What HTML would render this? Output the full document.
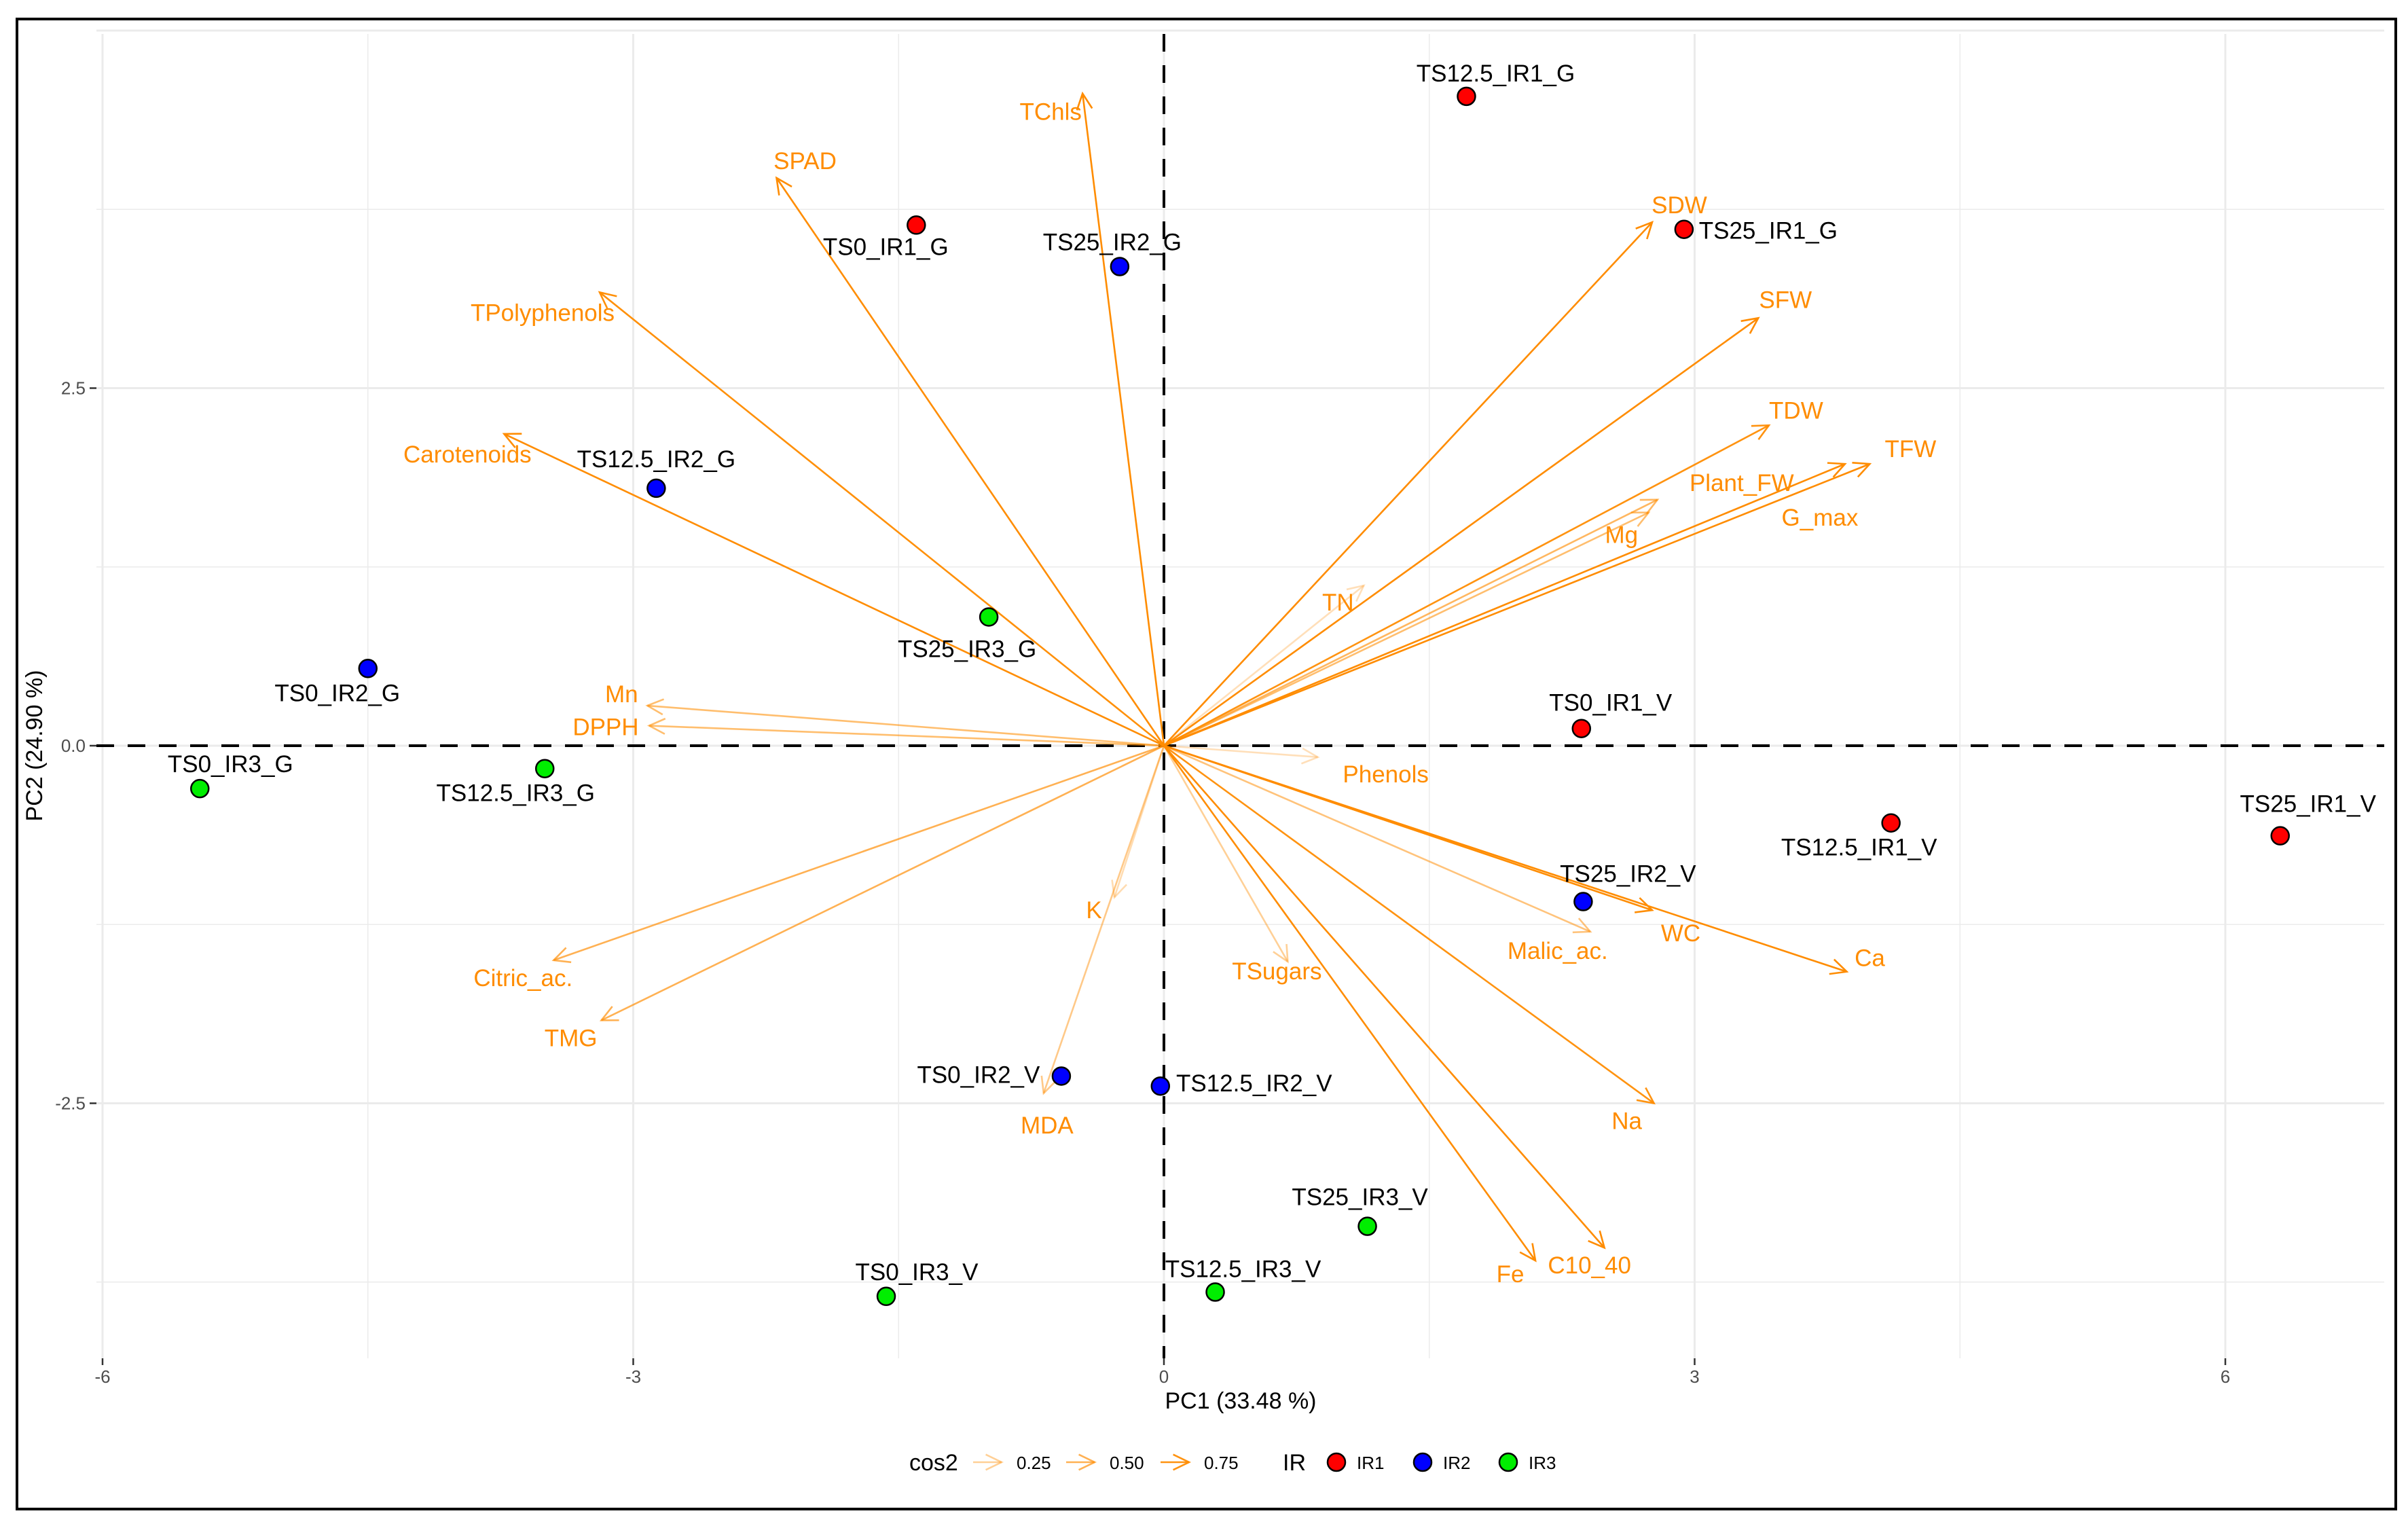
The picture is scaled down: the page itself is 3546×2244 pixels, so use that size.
<!DOCTYPE html>
<html><head><meta charset="utf-8"><style>
html,body{margin:0;padding:0;background:#fff}
svg{display:block;font-family:"Liberation Sans",Arial,sans-serif}
</style></head><body>
<svg id="chart" width="3546" height="2244" viewBox="0 0 3546 2244" xmlns="http://www.w3.org/2000/svg">
<rect x="0" y="0" width="3546" height="2244" fill="#fff"/>
<rect x="25" y="28" width="3503" height="2194" fill="none" stroke="#000" stroke-width="4"/>
<g id="grid"></g>
<g id="refs"></g>
<g id="arrows"></g>
<g id="points"></g>
<g id="axes"></g>
<g id="legend"></g>
</svg>
<script>
// ---- data ----
const indNames = ["TS12.5_IR1_G","TS0_IR1_G","TS25_IR2_G","TS25_IR1_G","TS12.5_IR2_G","TS25_IR3_G","TS0_IR2_G","TS0_IR3_G","TS12.5_IR3_G","TS0_IR1_V","TS12.5_IR1_V","TS25_IR1_V","TS25_IR2_V","TS0_IR2_V","TS12.5_IR2_V","TS25_IR3_V","TS12.5_IR3_V","TS0_IR3_V"];
const indPC1 = [1.71,-1.40,-0.25,2.94,-2.87,-0.99,-4.50,-5.45,-3.50,2.36,4.11,6.31,2.37,-0.58,-0.02,1.15,0.29,-1.57];
const indPC2 = [4.54,3.64,3.35,3.61,1.80,0.90,0.54,-0.30,-0.16,0.12,-0.54,-0.63,-1.09,-2.31,-2.38,-3.36,-3.82,-3.85];
const indGroup = ["IR1","IR1","IR2","IR1","IR2","IR3","IR2","IR3","IR3","IR1","IR1","IR1","IR2","IR2","IR2","IR3","IR3","IR3"];
const varNames = ["SPAD","TChls","TPolyphenols","Carotenoids","SDW","SFW","TDW","TFW","G_max","Plant_FW","Mg","TN","Mn","DPPH","Phenols","Ca","WC","Malic_ac.","Na","C10_40","Fe","TSugars","K","MDA","Citric_ac.","TMG"];
const varPC1 = [-2.19,-0.46,-3.19,-3.73,2.76,3.36,3.42,3.99,3.85,2.79,2.74,1.13,-2.92,-2.91,0.87,3.86,2.76,2.41,2.77,2.49,2.10,0.70,-0.28,-0.68,-3.45,-3.18];
const varPC2 = [3.97,4.56,3.17,2.18,3.66,2.99,2.24,1.97,1.97,1.72,1.63,1.12,0.28,0.14,-0.08,-1.58,-1.15,-1.30,-2.50,-3.51,-3.60,-1.51,-1.06,-2.43,-1.50,-1.92];
const varCos2 = [0.80,0.82,0.78,0.80,0.85,0.85,0.75,0.85,0.85,0.45,0.40,0.12,0.40,0.40,0.12,0.85,0.80,0.35,0.75,0.85,0.80,0.25,0.15,0.30,0.50,0.50];
const xTicks = [-6,-3,0,3,6];
const yTicks = [-2.5,0,2.5];
const legendCos2 = [0.25,0.50,0.75];
const groupNames = ["IR1","IR2","IR3"];
const groupColors = {IR1:"#FF0000",IR2:"#0000FF",IR3:"#00EE00"};
// label layout offsets (px) for repelled text
const indLabDX = [43,-45,-11,124,0,-32,-45,45,-43,43,-47,41,66,-122,138,-11,41,45];
const indLabDY = [-34,32,-36,2,-43,47,36,-36,36,-38,36,-47,-41,-2,-4,-43,-34,-36];
const varLabDX = [42,-47,-84,-54,40,40,40,60,-37,124,-40,-38,-38,-64,100,34,42,-48,-40,-22,-37,-16,-30,5,-45,-45];
const varLabDY = [-25,27,30,30,-25,-27,-22,-22,79,-25,33,25,-17,2,25,-20,34,28,26,26,20,14,19,47,26,26];

// ---- scales ----
const X0=1714, XU=260.5, Y0=1098, YU=210.6;
const PL=142, PR=3511, PT=50, PB=2000;
const sx = v => X0 + v*XU;
const sy = v => Y0 - v*YU;
const NS="http://www.w3.org/2000/svg";
function mk(tag, attrs, parent){const e=document.createElementNS(NS,tag);for(const k in attrs)e.setAttribute(k,attrs[k]);parent.appendChild(e);return e;}
const grid=document.getElementById('grid'), refs=document.getElementById('refs'), arrows=document.getElementById('arrows'), pts=document.getElementById('points'), axes=document.getElementById('axes'), leg=document.getElementById('legend');

for(let v=-6; v<=6.5; v+=1.5){
  const l=mk('line',{x1:sx(v),x2:sx(v),y1:PT,y2:PB,stroke:'#ebebeb','stroke-width':(v%3===0)?3:1.5},grid);
  
  
}
for(let v=-3.75; v<=5; v+=1.25){
  const l=mk('line',{x1:PL,x2:PR,y1:sy(v),y2:sy(v),stroke:'#ebebeb','stroke-width':(Math.abs(v%2.5)<1e-6)?3:1.5},grid);
  
  
}
let hz=mk('line',{x1:PL,x2:PR,y1:sy(0),y2:sy(0),stroke:'#000','stroke-width':4,'stroke-dasharray':'26,20'},refs);


let vz=mk('line',{x1:sx(0),x2:sx(0),y1:PT,y2:PB,stroke:'#000','stroke-width':4,'stroke-dasharray':'26,20'},refs);



function arrowHead(parent,x1,y1,x2,y2,col,op,w){
  const a=Math.atan2(y2-y1,x2-x1), L=26, s=0.45;
  const p=`M${x2-L*Math.cos(a-s)},${y2-L*Math.sin(a-s)} L${x2},${y2} L${x2-L*Math.cos(a+s)},${y2-L*Math.sin(a+s)}`;
  return mk('path',{d:p,fill:'none',stroke:col,'stroke-opacity':op,'stroke-width':w},parent);
}
function opac(c){return Math.max(0.12,Math.min(1,0.15+c*1.05));}
varNames.forEach((n,i)=>{
  const g=mk('g',{},arrows);
  
  
  const x2=sx(varPC1[i]), y2=sy(varPC2[i]), op=opac(varCos2[i]);
  mk('line',{x1:sx(0),y1:sy(0),x2:x2,y2:y2,stroke:'#FF8C00','stroke-opacity':op,'stroke-width':2.6},g);
  arrowHead(g,sx(0),sy(0),x2,y2,'#FF8C00',op,2.6);
  const t=mk('text',{x:x2+varLabDX[i],y:y2+varLabDY[i]+12,'text-anchor':'middle','font-size':35,fill:'#FF8C00'},g);
  t.textContent=n;
});
indNames.forEach((n,i)=>{
  const g=mk('g',{},pts);
  
  
  const x=sx(indPC1[i]), y=sy(indPC2[i]);
  mk('circle',{cx:x,cy:y,r:13,fill:groupColors[indGroup[i]],stroke:'#000','stroke-width':2.5},g);
  const t=mk('text',{x:x+indLabDX[i],y:y+indLabDY[i]+12,'text-anchor':'middle','font-size':35,fill:'#000'},g);
  t.textContent=n;
});
xTicks.forEach(v=>{
  const l=mk('line',{x1:sx(v),x2:sx(v),y1:PB,y2:PB+10,stroke:'#333','stroke-width':2.5},axes);
  
  
  const t=mk('text',{x:sx(v),y:PB+36,'text-anchor':'middle','font-size':26,fill:'#4d4d4d'},axes);
  
  
  t.textContent=String(v);
});
yTicks.forEach(v=>{
  const l=mk('line',{x1:PL-10,x2:PL,y1:sy(v),y2:sy(v),stroke:'#333','stroke-width':2.5},axes);
  
  
  const t=mk('text',{x:PL-16,y:sy(v)+9,'text-anchor':'end','font-size':26,fill:'#4d4d4d'},axes);
  
  
  t.textContent=v.toFixed(1);
});
let xt=mk('text',{x:1827,y:2074,'text-anchor':'middle','font-size':34,fill:'#000'},axes);


xt.textContent='PC1 (33.48 %)';
let yt=mk('text',{x:0,y:0,'text-anchor':'middle','font-size':34,fill:'#000',transform:`translate(62,${sy(0)}) rotate(-90)`},axes);


yt.textContent='PC2 (24.90 %)';
const LY=2153;
let lt=mk('text',{x:1339,y:LY+12,'font-size':34,fill:'#000'},leg);


lt.textContent='cos2';
const lx=[1433,1570,1709];
legendCos2.forEach((c,i)=>{
  const g=mk('g',{},leg);
  
  
  const op=opac(c);
  mk('line',{x1:lx[i],x2:lx[i]+42,y1:LY,y2:LY,stroke:'#FF8C00','stroke-opacity':op,'stroke-width':2.6},g);
  arrowHead(g,lx[i],LY,lx[i]+42,LY,'#FF8C00',op,2.6);
  const t=mk('text',{x:lx[i]+64,y:LY+10,'font-size':26,fill:'#000'},g);
  t.textContent=c.toFixed(2);
});
let it=mk('text',{x:1889,y:LY+12,'font-size':34,fill:'#000'},leg);


it.textContent='IR';
const gx=[1968,2095,2221];
groupNames.forEach((n,i)=>{
  const g=mk('g',{},leg);
  
  
  mk('circle',{cx:gx[i],cy:LY,r:13,fill:groupColors[n],stroke:'#000','stroke-width':2.5},g);
  const t=mk('text',{x:gx[i]+30,y:LY+10,'font-size':26,fill:'#000'},g);
  t.textContent=n;
});
</script>
</body></html>
